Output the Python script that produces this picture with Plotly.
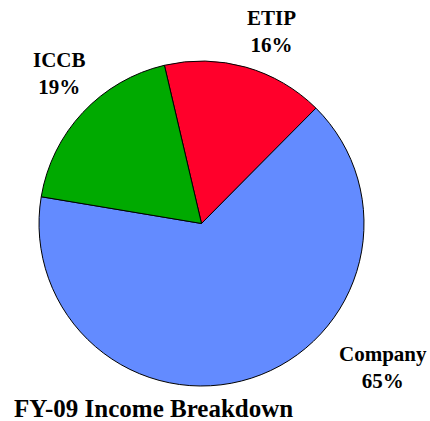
import plotly.graph_objects as go

# Income sources, clockwise from the ETIP slice
labels = ["ETIP", "Company", "ICCB"]
values = [16.1, 65.2, 18.7]
colors = ["#FF002B", "#638BFF", "#00AA00"]
title_text = "FY-09 Income Breakdown"

W, H = 430, 421
FONT = "Liberation Serif, Times New Roman, serif"


def px(x, y):
    """page pixel -> paper coords"""
    return x / W, 1 - y / H


x0, y1 = px(39, 61)
x1, y0 = px(364, 386)

fig = go.Figure(
    go.Pie(
        labels=labels,
        values=values,
        sort=False,
        direction="clockwise",
        rotation=-13.2,
        marker=dict(colors=colors, line=dict(color="black", width=1)),
        textinfo="none",
        hoverinfo="label+percent",
        showlegend=False,
        domain=dict(x=[x0, x1], y=[y0, y1]),
    )
)

# label placement (pixel centres of each two-line label)
label_pos = {"ETIP": (271, 31), "Company": (383, 367), "ICCB": (59, 73)}
total = sum(values)
for lab, val in zip(labels, values):
    ax, ay = px(*label_pos[lab])
    fig.add_annotation(
        x=ax,
        y=ay,
        xref="paper",
        yref="paper",
        xanchor="center",
        yanchor="middle",
        text=f"<b>{lab}</b><br><b>{round(val / total * 100)}%</b>",
        showarrow=False,
        font=dict(family=FONT, size=21, color="black"),
    )

tx, ty = px(12, 408)
fig.add_annotation(
    x=tx,
    y=ty,
    xref="paper",
    yref="paper",
    xanchor="left",
    yanchor="middle",
    text=f"<b>{title_text}</b>",
    showarrow=False,
    font=dict(family=FONT, size=25, color="black"),
)

fig.update_layout(
    width=W,
    height=H,
    margin=dict(l=0, r=0, t=0, b=0),
    paper_bgcolor="white",
    plot_bgcolor="white",
)

# drop the browser's default body margin so the chart fills the window
fig.write_html(
    "out.html",
    config={"displayModeBar": False},
    post_script="document.body.style.margin='0';document.body.style.overflow='hidden';",
)
